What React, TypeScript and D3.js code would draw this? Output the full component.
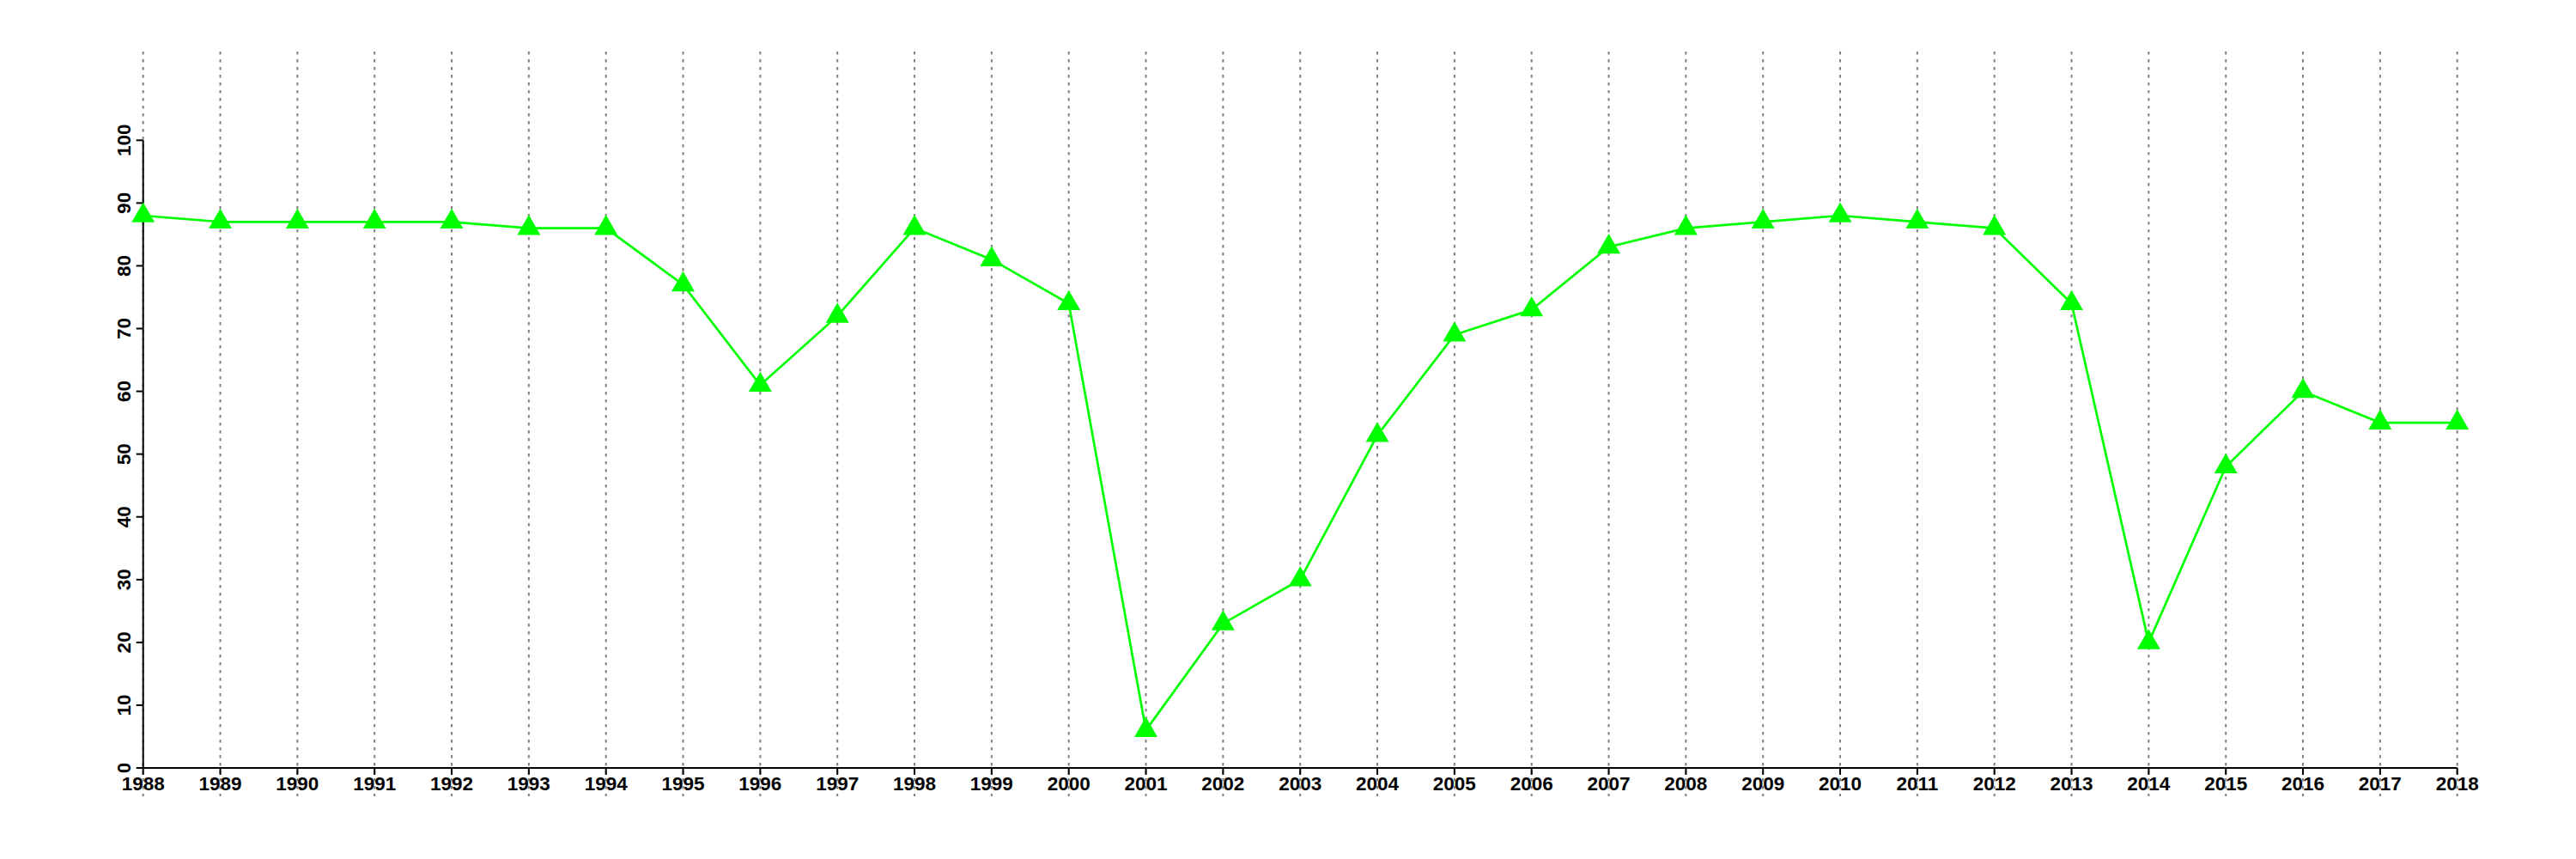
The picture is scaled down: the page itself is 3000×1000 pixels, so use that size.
import React, { useEffect, useRef } from "react";
import * as d3 from "d3";

const years: number[] = [
  1988, 1989, 1990, 1991, 1992, 1993, 1994, 1995, 1996, 1997, 1998, 1999, 2000,
  2001, 2002, 2003, 2004, 2005, 2006, 2007, 2008, 2009, 2010, 2011, 2012, 2013,
  2014, 2015, 2016, 2017, 2018,
];
const values: number[] = [
  88, 87, 87, 87, 87, 86, 86, 77, 61, 72, 86, 81, 74,
  6, 23, 30, 53, 69, 73, 83, 86, 87, 88, 87, 86, 74,
  20, 48, 60, 55, 55,
];
const yTicks: number[] = [0, 10, 20, 30, 40, 50, 60, 70, 80, 90, 100];

const W = 3000;
const H = 1000;

export default function App() {
  const ref = useRef<SVGSVGElement | null>(null);

  useEffect(() => {
    const svg = d3.select(ref.current);
    svg.selectAll("*").remove();

    const x = d3.scaleLinear().domain([1988, 2018]).range([166.7, 2861.7]);
    const y = d3.scaleLinear().domain([0, 100]).range([894, 163.3]);
    const font = "'Liberation Sans', Arial, Helvetica, sans-serif";

    // vertical dotted grid lines
    svg
      .append("g")
      .selectAll("line")
      .data(years)
      .join("line")
      .attr("x1", (d) => x(d))
      .attr("x2", (d) => x(d))
      .attr("y1", 60)
      .attr("y2", 927)
      .attr("stroke", "#7f7f7f")
      .attr("stroke-width", 2)
      .attr("stroke-dasharray", "3.5,5.5");

    // x axis
    const gx = svg.append("g").attr("transform", `translate(0,${y(0)})`);
    gx.append("line")
      .attr("x1", x(1988))
      .attr("x2", x(2018))
      .attr("stroke", "#000")
      .attr("stroke-width", 2);
    gx.selectAll("line.tick")
      .data(years)
      .join("line")
      .attr("class", "tick")
      .attr("x1", (d) => x(d))
      .attr("x2", (d) => x(d))
      .attr("y1", 0)
      .attr("y2", 8)
      .attr("stroke", "#000")
      .attr("stroke-width", 2);
    gx.selectAll("text")
      .data(years)
      .join("text")
      .attr("x", (d) => x(d))
      .attr("y", 26)
      .attr("text-anchor", "middle")
      .attr("font-family", font)
      .attr("font-weight", "bold")
      .attr("font-size", 22.5)
      .attr("fill", "#000")
      .text((d) => String(d));

    // y axis
    const gy = svg.append("g").attr("transform", `translate(${x(1988)},0)`);
    gy.append("line")
      .attr("y1", y(0))
      .attr("y2", y(100))
      .attr("stroke", "#000")
      .attr("stroke-width", 2);
    gy.selectAll("line.tick")
      .data(yTicks)
      .join("line")
      .attr("class", "tick")
      .attr("x1", -8)
      .attr("x2", 0)
      .attr("y1", (d) => y(d))
      .attr("y2", (d) => y(d))
      .attr("stroke", "#000")
      .attr("stroke-width", 2);
    gy.selectAll("text")
      .data(yTicks)
      .join("text")
      .attr("transform", (d) => `translate(-15,${y(d)}) rotate(-90)`)
      .attr("text-anchor", "middle")
      .attr("font-family", font)
      .attr("font-weight", "bold")
      .attr("font-size", 22.5)
      .attr("fill", "#000")
      .text((d) => String(d));

    // line
    const line = d3
      .line<number>()
      .x((_, i) => x(years[i]))
      .y((d) => y(d));
    svg
      .append("path")
      .datum(values)
      .attr("d", line)
      .attr("fill", "none")
      .attr("stroke", "#00ff00")
      .attr("stroke-width", 2.7);

    // triangles
    const tri = d3.symbol().type(d3.symbolTriangle).size(315);
    svg
      .append("g")
      .selectAll("path")
      .data(values)
      .join("path")
      .attr("transform", (d, i) => `translate(${x(years[i])},${y(d)})`)
      .attr("d", tri)
      .attr("fill", "#00ff00");
  }, []);

  return (
    <svg
      ref={ref}
      width={W}
      height={H}
      style={{ position: "absolute", left: 0, top: 0, background: "#fff" }}
    />
  );
}
